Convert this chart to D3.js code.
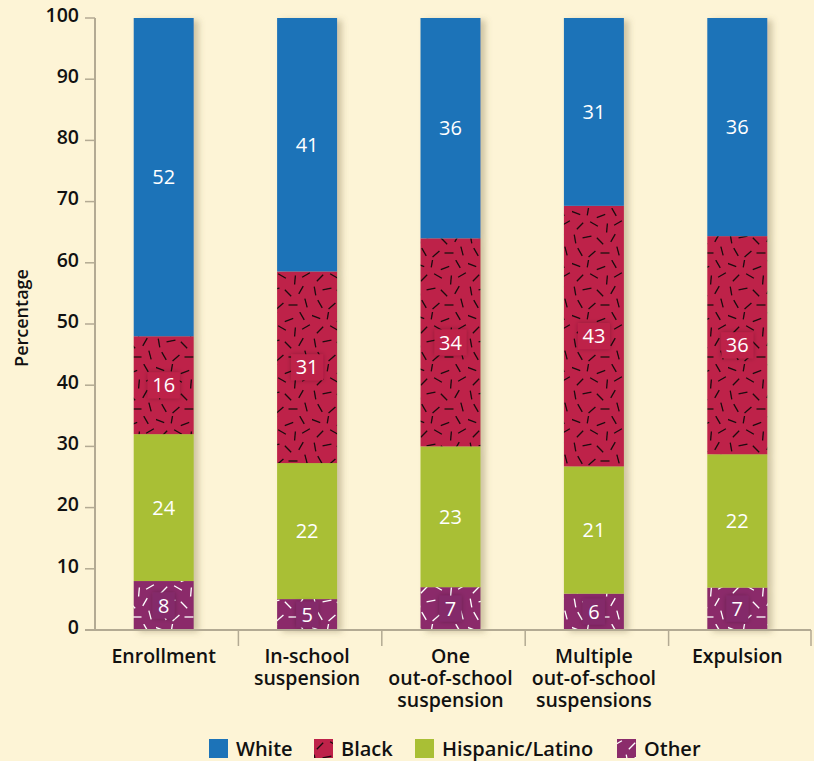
<!DOCTYPE html>
<html><head><meta charset="utf-8">
<script src="https://cdn.jsdelivr.net/npm/d3@7"></script>
<style>
html,body{margin:0;padding:0;background:#FDF4D6;}
svg{display:block;font-family:"Open Sans",sans-serif;font-weight:600;}
</style></head><body>
<svg id="chart" width="814" height="761"></svg>
<script>
const categories = ["Enrollment","In-school suspension","One out-of-school suspension","Multiple out-of-school suspensions","Expulsion"];
const categoryLines = [["Enrollment"],["In-school","suspension"],["One","out-of-school","suspension"],["Multiple","out-of-school","suspensions"],["Expulsion"]];
const other    = [8, 5, 7, 6, 7];
const hispanic = [24, 22, 23, 21, 22];
const black    = [16, 31, 34, 43, 36];
const white    = [52, 41, 36, 31, 36];
const seriesNames = ["Other","Hispanic/Latino","Black","White"];
const legendOrder = ["White","Black","Hispanic/Latino","Other"];
const yTicks = [0,10,20,30,40,50,60,70,80,90,100];

const colors = {"White":"#1C73B8","Black":"#BE2249","Hispanic/Latino":"#A9BF35","Other":"#8B2C6B"};
const fills = {"White":"#1C73B8","Black":"url(#patBlack)","Hispanic/Latino":"#A9BF35","Other":"url(#patOther)"};

const rows = categories.map((c,i)=>({cat:c,"Other":other[i],"Hispanic/Latino":hispanic[i],"Black":black[i],"White":white[i]}));
const stack = d3.stack().keys(seriesNames).offset(d3.stackOffsetExpand);
const stacked = stack(rows);

const svg = d3.select("#chart");
const defs = svg.append("defs");

// dash patterns (decorative texture)
const dashes = [[4,5,20],[16,3,100],[29,8,160],[42,4,60],[8,18,135],[22,16,30],[35,20,95],[46,15,150],
 [3,31,80],[15,29,170],[28,33,45],[41,30,120],[8,44,60],[20,46,140],[33,45,0],[46,43,75]];
function makePattern(id, bg, stroke){
  const p = defs.append("pattern").attr("id",id).attr("patternUnits","userSpaceOnUse")
    .attr("width",52).attr("height",52);
  p.append("rect").attr("width",52).attr("height",52).attr("fill",bg);
  const L=9;
  p.selectAll("line").data(dashes).join("line")
    .attr("x1",d=>d[0]-Math.cos(d[2]*Math.PI/180)*L/2)
    .attr("y1",d=>d[1]-Math.sin(d[2]*Math.PI/180)*L/2)
    .attr("x2",d=>d[0]+Math.cos(d[2]*Math.PI/180)*L/2)
    .attr("y2",d=>d[1]+Math.sin(d[2]*Math.PI/180)*L/2)
    .attr("stroke",stroke).attr("stroke-width",1.3);
}
makePattern("patBlack","#BE2249","#1a0a0e");
makePattern("patOther","#8B2C6B","#ffffff");

const sh = defs.append("filter").attr("id","shadow").attr("x","-20%").attr("y","-5%").attr("width","150%").attr("height","110%");
sh.append("feDropShadow").attr("dx",5).attr("dy",2).attr("stdDeviation",3).attr("flood-color","#7a6a40").attr("flood-opacity",0.35);
const lsh = defs.append("filter").attr("id","lshadow").attr("x","-30%").attr("y","-30%").attr("width","160%").attr("height","160%");
lsh.append("feDropShadow").attr("dx",0).attr("dy",0).attr("stdDeviation",2.5).attr("flood-color","#000").attr("flood-opacity",0.25);

const x = d3.scaleBand().domain(categories).range([95,812]);
const y = d3.scaleLinear().domain([0,1]).range([630,18]);
const yAxisScale = d3.scaleLinear().domain([0,100]).range([630,18]);
const barW = 60;
const bx = c => x(c) + x.bandwidth()/2 - 3 - barW/2;

const axisColor = "#B3AA93";

// bars
const barsG = svg.append("g");
categories.forEach((c,i)=>{
  const g = barsG.append("g").attr("filter","url(#shadow)");
  stacked.forEach(s=>{
    const d = s[i];
    g.append("rect").attr("x",bx(c)).attr("width",barW)
      .attr("y",y(d[1])).attr("height",y(d[0])-y(d[1]))
      .attr("fill",fills[s.key]);
  });
});
// value labels
categories.forEach((c,i)=>{
  stacked.forEach(s=>{
    const d = s[i];
    const cy = (y(d[0])+y(d[1]))/2;
    const cx = bx(c)+barW/2;
    const v = rows[i][s.key];
    const w = String(v).length>1?32:22;
    if(s.key==="Other"||s.key==="Black"){
      svg.append("rect").attr("x",cx-w/2).attr("y",cy-13).attr("width",w).attr("height",26)
        .attr("fill", s.key==="Other"?"#84296A":colors[s.key]).attr("filter","url(#lshadow)");
    }
    svg.append("text").attr("x",cx).attr("y",cy).attr("dy","0.36em")
      .attr("text-anchor","middle").attr("fill","#fff").attr("font-size",20).attr("font-weight",500)
      .text(v);
  });
});

// y axis
const yAxis = svg.append("g");
yAxis.append("line").attr("x1",95).attr("x2",95).attr("y1",yAxisScale(100)).attr("y2",631)
  .attr("stroke",axisColor).attr("stroke-width",2);
yAxis.selectAll(".t").data(yTicks).join("line").attr("class","t")
  .attr("x1",85).attr("x2",95).attr("y1",d=>yAxisScale(d)).attr("y2",d=>yAxisScale(d))
  .attr("stroke",axisColor).attr("stroke-width",1.5);
yAxis.selectAll("text").data(yTicks).join("text")
  .attr("x",79).attr("y",d=>yAxisScale(d)-3).attr("dy","0.35em").attr("text-anchor","end")
  .attr("font-size",19.5).attr("fill","#111").text(d=>d);

svg.append("text").attr("transform","translate(28,318) rotate(-90)").attr("text-anchor","middle")
  .attr("font-size",18).attr("fill","#111").text("Percentage");

// x axis
const xAxis = svg.append("g");
xAxis.append("line").attr("x1",85).attr("x2",811).attr("y1",630).attr("y2",630)
  .attr("stroke",axisColor).attr("stroke-width",2);
const seps = categories.slice(1).map(c=>x(c)).concat([811]);
xAxis.selectAll(".s").data(seps).join("line").attr("class","s")
  .attr("x1",d=>d).attr("x2",d=>d).attr("y1",630).attr("y2",646)
  .attr("stroke",axisColor).attr("stroke-width",1.5);
categories.forEach((c,i)=>{
  categoryLines[i].forEach((ln,j)=>{
    xAxis.append("text").attr("text-anchor","middle").attr("font-size",19.5).attr("fill","#111")
      .attr("x",bx(c)+barW/2).attr("y",663+j*22).text(ln);
  });
});

// legend
const legX = {"White":209,"Black":314,"Hispanic/Latino":415,"Other":617};
const leg = svg.append("g");
legendOrder.forEach(k=>{
  leg.append("rect").attr("x",legX[k]).attr("y",739).attr("width",19).attr("height",19).attr("fill",fills[k]);
  leg.append("text").attr("x",legX[k]+27).attr("y",756).attr("font-size",20).attr("fill","#111").text(k);
});
</script>
</body></html>
